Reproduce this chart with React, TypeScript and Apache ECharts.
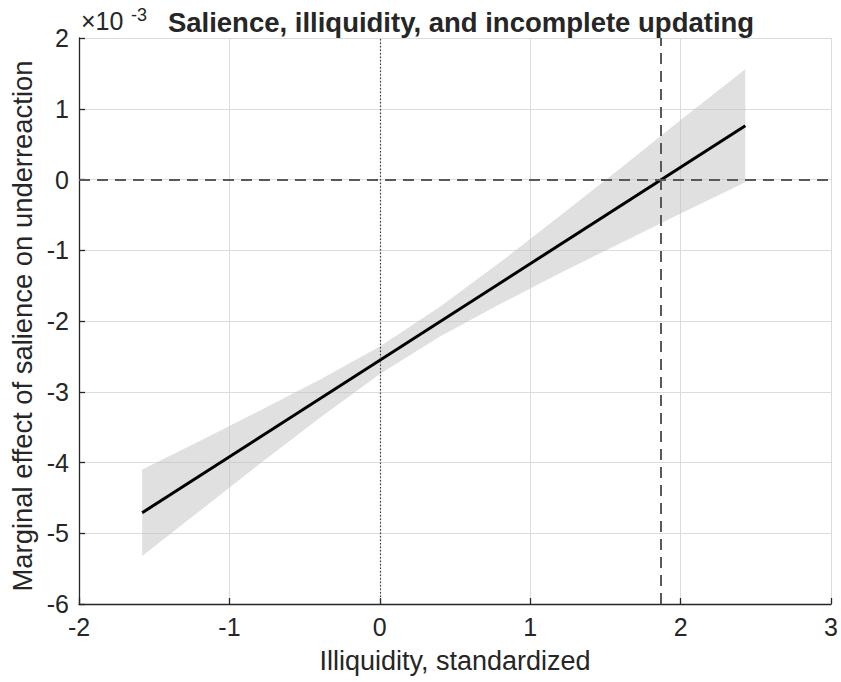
import React, { useEffect, useRef } from "react";
import * as echarts from "echarts";

// Values are in units of 10^-3
const lineX = [-1.58, 2.43];
const lineY = [-4.71, 0.76];

const bandX = [-1.58, -1.2, -0.8, -0.4, 0, 0.4, 0.8, 1.2, 1.6, 2.0, 2.43];
const bandUpper = [-4.1, -3.7, -3.27, -2.83, -2.36, -1.8, -1.17, -0.51, 0.16, 0.84, 1.56];
const bandLower = [-5.32, -4.69, -4.02, -3.37, -2.75, -2.22, -1.76, -1.32, -0.9, -0.48, -0.04];

const crossingX = 1.874;
const zeroY = 0;
const meanX = 0;

const xTicks = [-2, -1, 0, 1, 2, 3];
const yTicks = [-6, -5, -4, -3, -2, -1, 0, 1, 2];

const titleText = "Salience, illiquidity, and incomplete updating";
const xName = "Illiquidity, standardized";
const yName = "Marginal effect of salience on underreaction";
const exponentBase = "×10";
const exponentPower = "-3";

const FONT = "'Liberation Sans', Arial, Helvetica, sans-serif";

export default function App() {
  const ref = useRef<HTMLDivElement>(null);
  useEffect(() => {
    if (!ref.current) return;
    const chart = echarts.init(ref.current, null, { renderer: "svg" });
    const gridLeft = 79;
    const gridTop = 38;
    const gridRight = 8;
    const gridBottom = 78;
    chart.setOption({
      animation: false,
      backgroundColor: "#ffffff",
      textStyle: { fontFamily: FONT },
      grid: { left: gridLeft, right: gridRight, top: gridTop, bottom: gridBottom },
      title: {
        text: titleText,
        left: (gridLeft + 841 - gridRight) / 2,
        textAlign: "center",
        top: 3,
        textStyle: { fontFamily: FONT, fontSize: 27.5, fontWeight: "bold", color: "#262626" },
      },
      graphic: [
        {
          type: "text",
          x: 81,
          y: 33,
          style: {
            text: exponentBase,
            font: "25px 'Liberation Sans', Arial, sans-serif",
            fill: "#262626",
            textAlign: "left",
            textVerticalAlign: "bottom",
            verticalAlign: "bottom",
          },
        },
        {
          type: "text",
          x: 131,
          y: 24,
          style: {
            text: exponentPower,
            font: "18px 'Liberation Sans', Arial, sans-serif",
            fill: "#262626",
            textAlign: "left",
            textVerticalAlign: "bottom",
            verticalAlign: "bottom",
          },
        },
      ],
      xAxis: {
        type: "value",
        min: -2,
        max: 3,
        interval: 1,
        name: xName,
        nameLocation: "middle",
        nameGap: 43,
        nameTextStyle: { fontFamily: FONT, fontSize: 27, color: "#262626" },
        axisLine: { show: true, onZero: false, lineStyle: { color: "#262626", width: 1.3 } },
        axisTick: { show: true, inside: true, length: 6, lineStyle: { color: "#262626", width: 1.3 } },
        axisLabel: {
          fontFamily: FONT,
          fontSize: 25,
          color: "#262626",
          margin: 10,
          formatter: (v: number) => (xTicks.includes(v) ? String(v) : ""),
        },
        splitLine: { show: true, lineStyle: { color: "#dcdcdc", width: 1 } },
      },
      yAxis: {
        type: "value",
        min: -6,
        max: 2,
        interval: 1,
        name: yName,
        nameLocation: "middle",
        nameGap: 40,
        nameTextStyle: { fontFamily: FONT, fontSize: 27.4, color: "#262626", padding: [0, 10, 0, 0] },
        axisLine: { show: true, onZero: false, lineStyle: { color: "#262626", width: 1.3 } },
        axisTick: { show: true, inside: true, length: 6, lineStyle: { color: "#262626", width: 1.3 } },
        axisLabel: {
          fontFamily: FONT,
          fontSize: 25,
          color: "#262626",
          margin: 10,
          formatter: (v: number) => (yTicks.includes(v) ? String(v) : ""),
        },
        splitLine: { show: true, lineStyle: { color: "#dcdcdc", width: 1 } },
      },
      series: [
        {
          type: "custom",
          coordinateSystem: "cartesian2d",
          clip: true,
          silent: true,
          z: 1,
          data: bandX.map((x, i) => [x, bandUpper[i], bandLower[i]]),
          renderItem: (params: any, api: any) => {
            if (params.dataIndex !== 0) return null;
            const pts: number[][] = [];
            for (let i = 0; i < bandX.length; i++) pts.push(api.coord([bandX[i], bandUpper[i]]));
            for (let i = bandX.length - 1; i >= 0; i--) pts.push(api.coord([bandX[i], bandLower[i]]));
            return {
              type: "polygon",
              shape: { points: pts },
              style: { fill: "rgba(190,190,190,0.48)", stroke: "none" },
            };
          },
        },
        {
          type: "line",
          z: 3,
          data: lineX.map((x, i) => [x, lineY[i]]),
          showSymbol: false,
          symbol: "none",
          lineStyle: { color: "#000000", width: 3 },
          markLine: {
            silent: true,
            symbol: "none",
            label: { show: false },
            data: [
              { yAxis: zeroY, lineStyle: { color: "#595959", type: [11, 7], width: 2 } },
              { xAxis: crossingX, lineStyle: { color: "#595959", type: [11, 7], width: 2 } },
              { xAxis: meanX, lineStyle: { color: "#404040", type: [1.5, 2], width: 1.2 } },
            ],
          },
        },
      ],
    });
    return () => chart.dispose();
  }, []);
  return (
    <div
      ref={ref}
      style={{ position: "fixed", left: 0, top: 0, width: 841, height: 682, background: "#fff" }}
    />
  );
}
